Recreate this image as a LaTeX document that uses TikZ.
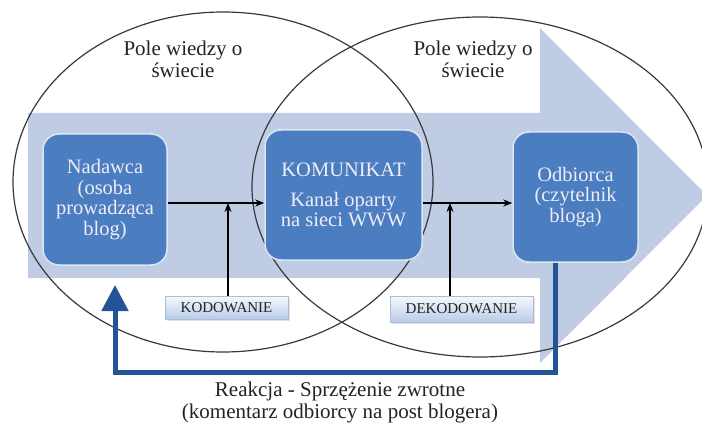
\documentclass[tikz,border=0pt]{standalone}
\usepackage{fontspec}
\setmainfont{Liberation Serif}
\usetikzlibrary{arrows.meta,shadows}
\definecolor{band}{RGB}{192,204,228}
\definecolor{boxblue}{RGB}{74,126,193}
\definecolor{boxtxt}{RGB}{240,236,246}
\definecolor{fb}{RGB}{35,85,150}
\definecolor{tagtop}{RGB}{246,249,253}
\definecolor{tagbot}{RGB}{184,204,232}
\definecolor{ink}{RGB}{35,35,35}
\begin{document}
\begin{tikzpicture}[x=1pt,y=-1pt,
  actor/.style={draw=white!80!boxblue, line width=1.5pt, fill=boxblue, rounded corners=16pt,
    text=boxtxt, align=center, font=\fontsize{20.5}{20.5}\selectfont, inner sep=0pt},
  tag/.style={draw=tagbot!80!gray, line width=0.6pt, top color=tagtop, bottom color=tagbot,
    drop shadow={shadow xshift=2pt, shadow yshift=-2pt, fill=gray!45},
    font=\fontsize{15}{16}\selectfont, text=ink, inner sep=0pt},
  field/.style={ink!90, line width=1.2pt},
  flow/.style={line width=1.6pt, black, -{Stealth[length=9pt,width=7pt]}},
  feedback/.style={fb, line width=5pt, -{Triangle[length=26pt,width=26pt]}},
  caption/.style={text=ink, align=center, font=\fontsize{21}{22}\selectfont, inner sep=0pt}
]
\useasboundingbox (0,0) rectangle (702,425);
\fill[white] (0,0) rectangle (702,425);
% big arrow
\fill[band] (28,113) -- (540,113) -- (540,28) -- (707,195.5) -- (540,363) -- (540,278) -- (28,278) -- cycle;
% fields of knowledge
\draw[field] (223,182) ellipse [x radius=210, y radius=170];
\draw[field] (480,187) ellipse [x radius=228, y radius=170];
\node[caption] (pole1) at (183,59) {Pole wiedzy o\\świecie};
\node[caption] (pole2) at (473,59) {Pole wiedzy o\\świecie};
% boxes
\node[actor, minimum width=124pt, minimum height=131pt] (nad) at (105,199.5) {Nadawca\\(osoba\\prowadząca\\blog)};
\node[actor, minimum width=157pt, minimum height=130pt] (kom) at (343.5,195) {KOMUNIKAT\\[9pt]Kanał oparty\\na sieci WWW};
\node[actor, minimum width=125pt, minimum height=130pt] (odb) at (575.5,197) {Odbiorca\\(czytelnik\\bloga)};
\node[tag, minimum width=123pt, minimum height=23pt] (kod) at (226.5,307.5) {KODOWANIE};
\node[tag, minimum width=143pt, minimum height=26pt] (dek) at (461.5,309) {DEKODOWANIE};
% flow
\coordinate (h1) at (228,203);
\coordinate (h2) at (450,203);
\draw[flow] (nad.east |- h1) -- (kom.west |- h1);
\draw[flow] (kom.east |- h2) -- (odb.west |- h2);
\draw[flow] (kod.north -| h1) -- (h1);
\draw[flow] (dek.north -| h2) -- (h2);
% feedback
\coordinate (fbx) at (555,0);
\coordinate (fbl) at (115,372);
\draw[feedback] (odb.south -| fbx) -- (fbx |- fbl) -- (fbl) -- ++(0,-87);
\node[caption] (reakcja) at (340,402) {Reakcja - Sprzężenie zwrotne\\(komentarz odbiorcy na post blogera)};
\end{tikzpicture}
\end{document}
